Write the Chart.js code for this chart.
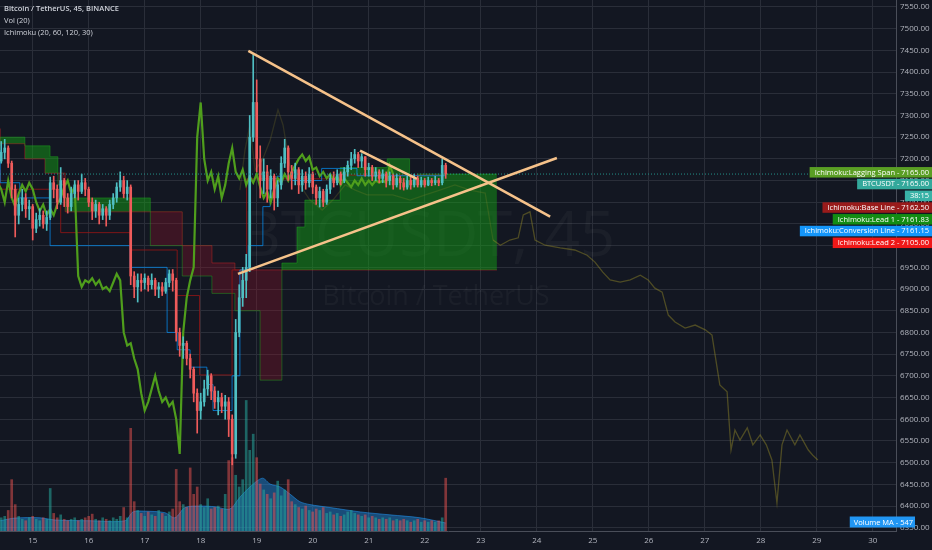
<!DOCTYPE html>
<html><head><meta charset="utf-8">
<script src="https://cdn.jsdelivr.net/npm/chart.js@4.4.1/dist/chart.umd.min.js"></script>
<style>html,body{margin:0;padding:0;background:#131722;}canvas{display:block;}</style>
</head><body>
<canvas id="c" width="932" height="550"></canvas>
<script>
// ================= DATA =================
const barStart = 14.4375;      // day (Jan) of first 90-min bar
const barStep = 0.0625;        // 1.5 h, in days
const laggingShift = 0.9375;   // 30 x 45 min displacement, in days
const firstOpen = 7195;
const closes = [
7215,7225,7190,7130,7070,7095,7110,7085,7090,7040,
7060,7070,7050,7065,7145,7130,7100,7150,7110,7090,
7120,7140,7125,7145,7130,7100,7080,7095,7070,7085,
7070,7095,7110,7135,7150,7120,7135,6930,6905,6920,
6915,6925,6910,6920,6900,6905,6895,6915,6935,6920,
6800,6770,6775,6740,6715,6660,6620,6640,6670,6700,
6665,6640,6650,6630,6640,6600,6520,6800,6880,6920,
6950,7250,7330,7200,7150,7170,7130,7160,7110,7140,
7190,7225,7170,7155,7175,7140,7160,7145,7165,7135,
7110,7125,7100,7130,7155,7145,7165,7150,7170,7185,
7200,7210,7195,7205,7175,7180,7160,7170,7155,7165,
7150,7160,7140,7155,7145,7135,7150,7140,7155,7140,
7150,7140,7150,7145,7150,7145,7185,7165];
const highs = [
7240,7245,7230,7195,7140,7110,7130,7120,7105,7095,
7075,7085,7080,7080,7158,7160,7140,7180,7155,7120,
7135,7150,7150,7165,7155,7135,7110,7105,7100,7095,
7090,7105,7120,7145,7170,7160,7150,7140,6940,6935,
6935,6935,6930,6935,6925,6915,6915,6925,6944,6945,
6925,6810,6790,6780,6750,6720,6670,6660,6690,6713,
6705,6675,6665,6660,6655,6650,6610,6830,6910,6950,
6980,7300,7440,7382,7230,7200,7185,7175,7165,7150,
7205,7245,7230,7185,7190,7180,7175,7170,7180,7170,
7140,7135,7130,7140,7165,7170,7175,7170,7180,7195,
7215,7222,7215,7212,7205,7190,7185,7180,7175,7175,
7170,7170,7165,7165,7160,7155,7160,7160,7165,7160,
7158,7155,7158,7155,7160,7155,7200,7190];
const lows = [
7190,7200,7180,7110,7020,7050,7080,7065,7060,7013,
7030,7045,7040,7035,7060,7110,7085,7095,7090,7075,
7080,7110,7105,7120,7115,7090,7060,7065,7050,7060,
7045,7060,7085,7100,7125,7110,7105,6910,6880,6870,
6895,6900,6895,6900,6885,6880,6885,6890,6905,6895,
6780,6745,6740,6725,6695,6640,6568,6600,6630,6655,
6645,6625,6610,6615,6600,6560,6495,6510,6790,6860,
6880,6940,7240,7170,7110,7120,7100,7110,7082,7090,
7130,7180,7150,7130,7140,7120,7125,7130,7135,7120,
7095,7089,7090,7095,7120,7135,7140,7140,7145,7160,
7175,7190,7180,7180,7160,7160,7150,7150,7145,7145,
7135,7140,7130,7135,7130,7128,7130,7130,7135,7135,
7135,7135,7138,7138,7140,7138,7140,7155];
const volumes = [
900,1000,1400,3500,1800,1000,800,700,900,1000,
800,700,900,800,2900,1200,900,1100,800,700,
800,900,700,800,900,1000,1150,800,700,900,
800,700,900,800,1000,1600,900,7000,2000,1400,
1200,1000,1300,1100,1000,1400,1200,1000,1300,1500,
4200,2000,1800,1600,4300,2500,3000,1800,1600,2200,
1500,1600,1700,1500,2500,4800,5000,3800,3000,3500,
8900,5500,6600,5000,3200,2800,2500,2200,2600,3400,
2400,2800,3500,2000,1800,1600,1500,1700,1400,1300,
1500,1400,1600,1200,1300,1100,1200,1000,1100,1300,
1400,1200,1100,1000,1100,900,1000,900,800,900,
800,900,700,800,700,800,700,600,700,800,
600,700,600,700,600,700,900,3600];
const volMaDays   = [14.42,14.68,15.13,15.40,16.02,16.65,16.79,17.00,17.36,17.54,17.72,17.99,18.26,18.52,18.70,18.88,19.10,19.24,19.42,19.60,19.77,19.95,20.31,20.85,21.38,21.92,22.375];
const volMaValues = [700,880,900,750,700,700,1300,1350,1250,900,1600,1700,1650,1500,2300,3000,3600,3200,3000,2500,2000,1800,1600,1300,1100,900,547];

const lead2Days   = [14.42,14.86,15.22,15.58,17.67,18.20,18.61,19.06,23.29];
const lead2Values = [7270,7235,7200,7167,7078,7000,6960,6944,6944];
const lead1Days   = [14.42,14.86,15.31,15.45,15.58,17.10,17.67,18.20,18.61,19.06,19.45,19.72,19.86,20.49,21.33,21.73,21.87,22.94,23.29];
const lead1Values = [7230,7250,7230,7205,7140,7110,7000,6930,6890,6850,6690,6960,7043,7105,7180,7200,7150,7165,7165];
const convDays    = [14.42,14.77,15.31,16.74,17.40,17.58,17.81,18.11,18.22,18.56,18.70,18.85,19.11,19.24,19.36,19.61,20.16,20.79,21.56,22.375];
const convValues  = [7220,7145,7110,7000,6950,6800,6760,6720,6680,6620,6700,6944,7000,7090,7154,7160,7150,7178,7161.15,7161.15];
const baseDays    = [14.42,15.50,16.74,17.58,17.98,18.56,18.82,20.29,20.69,21.90,22.375];
const baseValues  = [7175,7130,7030,6990,6885,6702,6944,7154,7163,7162.5,7162.5];

const patternDays = [18.70,18.79,18.88,18.97,19.10,19.24,19.38,19.47,19.59,19.77,19.95,20.17,20.36,20.58,20.76,20.97,21.20,21.43,21.74,22.01,22.27,22.54,22.81,23.08,23.22,23.35,23.52,23.67,23.76,23.88,23.97,24.15,24.42,24.68,24.90,25.04,25.18,25.31,25.49,25.67,25.85,25.99,26.11,26.24,26.35,26.47,26.65,26.83,27.01,27.13,27.20,27.27,27.40,27.47,27.54,27.63,27.76,27.86,27.99,28.10,28.20,28.29,28.38,28.47,28.61,28.70,28.85,28.93,29.02];
const patternValues = [7128,7220,7278,7174,7197,7243,7313,7278,7186,7140,7105,7082,7105,7140,7128,7117,7117,7117,7105,7117,7128,7140,7128,7121,7013,7001,7013,7018,7071,7078,7013,7001,6995,6990,6978,6962,6939,6921,6916,6921,6932,6921,6902,6893,6840,6824,6810,6817,6806,6794,6736,6679,6663,6529,6575,6552,6580,6541,6564,6541,6506,6407,6541,6575,6541,6564,6529,6517,6506];

const trendUpperDays = [18.85,24.24],  trendUpperPrices = [7449,7067];
const trendLowerDays = [18.665,24.36], trendLowerPrices = [6935,7202];
const trendSmallDays = [20.845,21.86], trendSmallPrices = [7219,7154];
const lastPrice = 7165.00;
const xTicks = [15,16,17,18,19,20,21,22,23,24,25,26,27,28,29,30];

const sideLabels = [
  {name:'Ichimoku:Lagging Span', value:7165.00, color:'#5a9e24'},
  {name:'BTCUSDT', value:7165.00, color:'#33a89b'},
  {name:'38:15', value:null, color:'#38b2a6'},
  {name:'Ichimoku:Base Line', value:7162.50, color:'#991b1b'},
  {name:'Ichimoku:Lead 1', value:7161.83, color:'#138c13'},
  {name:'Ichimoku:Conversion Line', value:7161.15, color:'#1496fa'},
  {name:'Ichimoku:Lead 2', value:7105.00, color:'#f01818'}
];
const volMaLabel = {name:'Volume MA', value:547};
const legendLines = ['Bitcoin / TetherUS, 45, BINANCE','Vol (20)','Ichimoku (20, 60, 120, 30)'];

// ================= SETUP =================
const xMin = 14.416, xMax = 30.416;
const yMin = 6342.4, yMax = 7566.1;
const volAxisMax = 36200;
const patternFutureFrom = 23.2;
const FONT = "'Open Sans', 'DejaVu Sans', sans-serif";

const barDays = closes.map((_, i) => barStart + i * barStep);
const opens = closes.map((c, i) => i === 0 ? firstOpen : closes[i - 1]);
const isUp = closes.map((c, i) => c >= opens[i]);
const UP = '#4fbfc3', DOWN = '#ef5b5b';
const pts = (xs, ys) => xs.map((x, i) => ({x, y: ys[i]}));
const lineBase = {type:'line', pointRadius:0, pointHoverRadius:0, fill:false, tension:0};
const noPad = s => { s.paddingTop = 0; s.paddingBottom = 0; s.paddingLeft = 0; s.paddingRight = 0; };

const watermark = {
  id:'watermark',
  beforeDatasetsDraw(chart){
    const {ctx, chartArea:a} = chart;
    ctx.save();
    ctx.fillStyle = 'rgba(255,255,255,0.035)';
    ctx.textAlign = 'center'; ctx.textBaseline = 'middle';
    ctx.font = `62px ${FONT}`;
    ctx.fillText('BTCUSDT, 45', a.left + a.width/2 - 20, 238);
    ctx.font = `27px ${FONT}`;
    ctx.fillText('Bitcoin / TetherUS', a.left + a.width/2 - 12, 297);
    ctx.restore();
  }
};

const overlay = {
  id:'overlay',
  afterDraw(chart){
    const {ctx} = chart;
    const y = chart.scales.y;
    ctx.save();
    ctx.textBaseline = 'middle'; ctx.textAlign = 'left';
    ctx.fillStyle = '#d1d4dc';
    ctx.font = `600 7.5px ${FONT}`;
    ctx.fillText(legendLines[0], 4, 8.5);
    ctx.font = `7.5px ${FONT}`;
    ctx.fillText(legendLines[1], 4, 20.5);
    ctx.fillText(legendLines[2], 4, 32.5);
    ctx.font = `7.5px ${FONT}`;
    ctx.textAlign = 'right';
    let cy = y.getPixelForValue(lastPrice) - 2;
    sideLabels.forEach(l => {
      const txt = l.value === null ? l.name : `${l.name} - ${l.value.toFixed(2)}`;
      const w = ctx.measureText(txt).width;
      ctx.fillStyle = l.color;
      ctx.fillRect(928 - w - 4, cy - 5, 932 - (928 - w - 4), 10.5);
      ctx.fillStyle = '#ffffff';
      ctx.fillText(txt, 929, cy + 0.5);
      cy += 11.75;
    });
    const vt = `${volMaLabel.name} - ${volMaLabel.value}`;
    const vw = ctx.measureText(vt).width;
    ctx.fillStyle = '#2196f3';
    ctx.fillRect(913 - vw - 4, 516.5, vw + 6, 11);
    ctx.fillStyle = '#ffffff';
    ctx.fillText(vt, 913, 522.5);
    ctx.restore();
  }
};

new Chart(document.getElementById('c'), {
  type:'line',
  data:{datasets:[
    Object.assign({}, lineBase, {label:'Lead 2', data:pts(lead2Days, lead2Values), stepped:'after', borderColor:'rgba(255,40,40,0.4)', borderWidth:1, order:20}),
    Object.assign({}, lineBase, {label:'Lead 1', data:pts(lead1Days, lead1Values), stepped:'after', borderColor:'rgba(30,170,30,0.45)', borderWidth:1, order:19,
      fill:{target:0, above:'rgba(20,170,20,0.45)', below:'rgba(150,20,40,0.32)'}}),
    Object.assign({}, lineBase, {label:'Pattern', data:pts(patternDays, patternValues), borderColor:'rgba(150,140,40,0.45)', borderWidth:1.3, order:18,
      segment:{borderColor:c => c.p0.parsed.x < patternFutureFrom ? 'rgba(150,140,40,0.22)' : 'rgba(150,140,40,0.45)'}}),
    Object.assign({}, lineBase, {label:'Volume MA', yAxisID:'yv', data:pts(volMaDays, volMaValues), borderColor:'rgba(33,150,243,0.55)', borderWidth:1,
      backgroundColor:'rgba(33,150,243,0.42)', fill:'origin', tension:0.3, order:17}),
    {type:'bar', label:'Volume', yAxisID:'yv', data:barDays.map((d,i)=>({x:d, y:volumes[i]})),
      backgroundColor:isUp.map(u => u ? 'rgba(38,166,154,0.55)' : 'rgba(239,83,80,0.5)'), barThickness:2, grouped:false, order:16},
    Object.assign({}, lineBase, {label:'Base Line', data:pts(baseDays, baseValues), stepped:'after', borderColor:'rgba(153,21,21,0.8)', borderWidth:1, order:15}),
    Object.assign({}, lineBase, {label:'Conversion Line', data:pts(convDays, convValues), stepped:'after', borderColor:'rgba(4,150,255,0.7)', borderWidth:1, order:14}),
    Object.assign({}, lineBase, {label:'Lagging Span', data:barDays.map((d,i)=>({x:d - laggingShift, y:closes[i]})), borderColor:'#4f9e1c', borderWidth:2.2, order:13}),
    {type:'bar', label:'Wicks', data:barDays.map((d,i)=>({x:d, y:[lows[i], highs[i]]})),
      backgroundColor:isUp.map(u => u ? UP : DOWN), barThickness:1, grouped:false, order:12},
    {type:'bar', label:'Bodies', data:barDays.map((d,i)=>({x:d, y:[opens[i], closes[i]]})),
      backgroundColor:isUp.map(u => u ? UP : DOWN), barThickness:2, grouped:false, order:11},
    Object.assign({}, lineBase, {label:'Price line', data:[{x:xMin,y:lastPrice},{x:xMax,y:lastPrice}], borderColor:'rgba(38,166,154,0.85)', borderWidth:1, borderDash:[1,2], order:5}),
    Object.assign({}, lineBase, {label:'Trend upper', data:pts(trendUpperDays, trendUpperPrices), borderColor:'#f6c28a', borderWidth:2.6, order:1}),
    Object.assign({}, lineBase, {label:'Trend lower', data:pts(trendLowerDays, trendLowerPrices), borderColor:'#f6c28a', borderWidth:2.6, order:1}),
    Object.assign({}, lineBase, {label:'Trend small', data:pts(trendSmallDays, trendSmallPrices), borderColor:'#f6c28a', borderWidth:2.6, order:1})
  ]},
  options:{
    responsive:false, animation:false, events:[],
    layout:{padding:0},
    plugins:{legend:{display:false}, tooltip:{enabled:false}},
    scales:{
      x:{type:'linear', min:xMin, max:xMax, offset:false,
        afterBuildTicks:s => { s.ticks = xTicks.map(v => ({value:v})); },
        ticks:{autoSkip:false, maxRotation:0, color:'#b2b5be', padding:5,
          font:{size:8, family:FONT}, callback:v => String(v)},
        grid:{color:'#2a2e39', drawTicks:false, offset:false},
        border:{display:true, color:'#4a4e59'},
        afterFit:s => { s.height = 19; noPad(s); }},
      y:{type:'linear', position:'right', min:yMin, max:yMax,
        ticks:{stepSize:50, includeBounds:false, autoSkip:false, color:'#b2b5be', padding:4,
          font:{size:8, family:FONT}, callback:v => v.toFixed(2)},
        grid:{color:'#2a2e39', drawTicks:false},
        border:{display:true, color:'#4a4e59'},
        afterFit:s => { s.width = 36; noPad(s); }},
      yv:{type:'linear', display:false, min:0, max:volAxisMax}
    }
  },
  plugins:[watermark, overlay]
});
</script>
</body></html>
